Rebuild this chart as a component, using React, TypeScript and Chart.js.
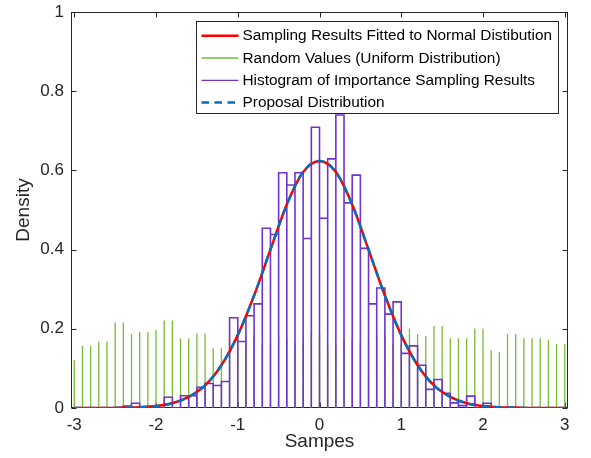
import React, { useEffect, useRef } from 'react';
import { Chart, registerables } from 'chart.js';

Chart.register(...registerables);

const FONT = "'Liberation Sans', Arial, Helvetica, sans-serif";

// Green stems: uniform random values, one every 0.1 from -3 to 3
const uniformX: number[] = Array.from({ length: 61 }, (_, i) => Math.round((-3 + i * 0.1) * 10) / 10);
const uniformY: number[] = [
  0.121, 0.157, 0.157, 0.167, 0.167, 0.216, 0.216, 0.187, 0.192, 0.192,
  0.197, 0.221, 0.221, 0.176, 0.176, 0.188, 0.188, 0.151, 0.151, 0.172,
  0.172, 0.183, 0.183, 0.160, 0.160, 0.178, 0.178, 0.165, 0.165, 0.190,
  0.190, 0.158, 0.158, 0.175, 0.175, 0.168, 0.168, 0.185, 0.185, 0.162,
  0.162, 0.201, 0.187, 0.182, 0.207, 0.207, 0.176, 0.176, 0.176, 0.201,
  0.201, 0.146, 0.141, 0.187, 0.187, 0.176, 0.176, 0.176, 0.172, 0.162,
  0.162,
];

// Histogram bins (width 0.1) starting at -2.5
const binWidth = 0.1;
const histLeftEdges: number[] = Array.from({ length: 46 }, (_, i) => Math.round((-2.5 + i * binWidth) * 10) / 10);
const histY: number[] = [
  0, 0.005, 0.012, 0, 0, 0, 0.027, 0, 0.031, 0.031,
  0.052, 0.062, 0.057, 0.067, 0.228, 0.168, 0.233, 0.263, 0.454, 0.438,
  0.594, 0.563, 0.594, 0.428, 0.709, 0.479, 0.629, 0.740, 0.518, 0.588,
  0.403, 0.263, 0.303, 0.237, 0.268, 0.138, 0.157, 0.108, 0.047, 0.072,
  0.037, 0.013, 0.006, 0.030, 0, 0.012,
];

// Curves every 0.2
const curveX: number[] = Array.from({ length: 31 }, (_, i) => Math.round((-3 + i * 0.2) * 10) / 10);
const fitY: number[] = [
  0, 0, 0, 0.001, 0.002, 0.005, 0.012, 0.028, 0.057, 0.108,
  0.184, 0.284, 0.400, 0.514, 0.596, 0.624, 0.596, 0.514, 0.400, 0.284,
  0.184, 0.108, 0.057, 0.028, 0.012, 0.005, 0.002, 0.001, 0, 0,
  0,
];
const proposalY: number[] = [
  0, 0, 0, 0.001, 0.002, 0.005, 0.012, 0.028, 0.057, 0.108,
  0.184, 0.284, 0.400, 0.514, 0.596, 0.624, 0.596, 0.514, 0.400, 0.284,
  0.184, 0.108, 0.057, 0.028, 0.012, 0.005, 0.002, 0.001, 0, 0,
  0,
];

const xTicks: number[] = [-3, -2, -1, 0, 1, 2, 3];
const yTicks: number[] = [0, 0.2, 0.4, 0.6, 0.8, 1];

const legendOrder = [0, 1, 2, 3];

// Outline of every histogram bin (left edge up, across the top, right edge down)
function histogramOutline() {
  const pts: { x: number; y: number }[] = [];
  histLeftEdges.forEach((e, i) => {
    const r = e + binWidth;
    pts.push({ x: e, y: 0 }, { x: e, y: histY[i] }, { x: r, y: histY[i] }, { x: r, y: 0 });
  });
  return pts;
}

const framePlugin = {
  id: 'matlabFrame',
  beforeDatasetsDraw(chart: any) {
    const { ctx, chartArea, scales } = chart;
    const { left, right, top, bottom } = chartArea;
    ctx.save();
    ctx.strokeStyle = '#262626';
    ctx.lineWidth = 1;
    const L = Math.round(left) + 0.5;
    const R = Math.round(right) - 0.5;
    const T = Math.round(top) + 0.5;
    const B = Math.round(bottom) - 0.5;
    ctx.strokeRect(L, T, R - L, B - T);
    ctx.beginPath();
    scales.x.ticks.forEach((t: any) => {
      const px = Math.round(scales.x.getPixelForValue(t.value)) + 0.5;
      ctx.moveTo(px, B);
      ctx.lineTo(px, B - 5);
      ctx.moveTo(px, T);
      ctx.lineTo(px, T + 5);
    });
    scales.y.ticks.forEach((t: any) => {
      const py = Math.round(scales.y.getPixelForValue(t.value)) + 0.5;
      ctx.moveTo(L, py);
      ctx.lineTo(L + 5, py);
      ctx.moveTo(R, py);
      ctx.lineTo(R - 5, py);
    });
    ctx.stroke();
    ctx.restore();
  },
  afterDraw(chart: any) {
    const { ctx, chartArea } = chart;
    const ds = chart.data.datasets;
    const boxR = chartArea.right - 9.5;
    const boxT = chartArea.top + 9.5;
    const boxW = 362;
    const rowH = 22.3;
    const boxH = 92;
    const boxL = boxR - boxW;
    ctx.save();
    ctx.fillStyle = '#ffffff';
    ctx.fillRect(boxL, boxT, boxW, boxH);
    ctx.strokeStyle = '#262626';
    ctx.lineWidth = 1;
    ctx.strokeRect(boxL, boxT, boxW, boxH);
    ctx.font = `15.4px ${FONT}`;
    ctx.textBaseline = 'middle';
    ctx.textAlign = 'left';
    legendOrder.forEach((di, i) => {
      const d = ds[di];
      const y = boxT + 14.2 + i * rowH;
      ctx.save();
      ctx.beginPath();
      ctx.strokeStyle = d.legendColor;
      ctx.lineWidth = d.legendWidth;
      ctx.setLineDash(d.borderDash || []);
      ctx.moveTo(boxL + 5, y);
      ctx.lineTo(boxL + 42, y);
      ctx.stroke();
      ctx.restore();
      ctx.fillStyle = '#000000';
      ctx.fillText(d.label, boxL + 46, y + 0.5);
    });
    ctx.restore();
  },
};

export default function App() {
  const canvasRef = useRef<HTMLCanvasElement | null>(null);

  useEffect(() => {
    const canvas = canvasRef.current;
    if (!canvas) return;
    const chart = new Chart(canvas, {
      type: 'bar',
      data: {
        datasets: [
          {
            type: 'line',
            label: 'Sampling Results Fitted to Normal Distibution',
            data: curveX.map((x, i) => ({ x, y: fitY[i] })),
            borderColor: '#FF0000',
            borderWidth: 2.5,
            pointRadius: 0,
            cubicInterpolationMode: 'monotone',
            fill: false,
            order: 1,
            xAxisID: 'x',
            yAxisID: 'y',
            legendColor: '#FF0000',
            legendWidth: 2.5,
          } as any,
          {
            type: 'bar',
            label: 'Random Values (Uniform Distribution)',
            data: uniformX.map((x, i) => ({ x, y: uniformY[i] })),
            backgroundColor: '#77BC36',
            borderWidth: 0,
            barThickness: 1.3,
            grouped: false,
            inflateAmount: 0,
            order: 3,
            xAxisID: 'x2',
            yAxisID: 'y',
            legendColor: '#77BC36',
            legendWidth: 1.5,
          } as any,
          {
            type: 'line',
            label: 'Histogram of Importance Sampling Results',
            data: histogramOutline(),
            borderColor: '#7033CC',
            borderWidth: 1.6,
            borderJoinStyle: 'miter',
            borderCapStyle: 'butt',
            pointRadius: 0,
            tension: 0,
            fill: false,
            order: 2,
            xAxisID: 'x',
            yAxisID: 'y',
            legendColor: '#7033CC',
            legendWidth: 1.2,
          } as any,
          {
            type: 'line',
            label: 'Proposal Distribution',
            data: curveX.map((x, i) => ({ x, y: proposalY[i] })),
            borderColor: '#0072BD',
            borderWidth: 2.5,
            borderDash: [7.5, 5.5],
            pointRadius: 0,
            cubicInterpolationMode: 'monotone',
            fill: false,
            order: 0,
            xAxisID: 'x',
            yAxisID: 'y',
            legendColor: '#0072BD',
            legendWidth: 2.5,
          } as any,
        ],
      },
      options: {
        responsive: false,
        animation: false,
        devicePixelRatio: 1,
        layout: { padding: { left: 0, top: 12, right: 23, bottom: 0 } },
        plugins: {
          legend: { display: false },
          tooltip: { enabled: false },
        },
        scales: {
          x: {
            type: 'linear',
            min: -3.04,
            max: 3.04,
            offset: false,
            grid: { display: false, drawTicks: false, offset: false },
            border: { display: false },
            afterBuildTicks: (s: any) => {
              s.ticks = xTicks.map((v) => ({ value: v }));
            },
            ticks: {
              padding: 7,
              color: '#262626',
              font: { family: FONT, size: 17 },
              maxRotation: 0,
              autoSkip: false,
              callback: (v: any) => `${v}`,
            },
            title: {
              display: true,
              text: 'Sampes',
              color: '#262626',
              font: { family: FONT, size: 19 },
              padding: { top: 0, bottom: 5 },
            },
            afterFit: (s: any) => {
              s.height = 50;
              s.paddingLeft = 0;
              s.paddingRight = 0;
            },
          },
          x2: {
            type: 'linear',
            display: false,
            min: -3.04,
            max: 3.04,
            offset: false,
            grid: { offset: false },
          },
          y: {
            type: 'linear',
            min: 0,
            max: 1,
            grid: { display: false, drawTicks: false },
            border: { display: false },
            afterBuildTicks: (s: any) => {
              s.ticks = yTicks.map((v) => ({ value: v }));
            },
            ticks: {
              padding: 7,
              color: '#262626',
              font: { family: FONT, size: 17 },
              callback: (v: any) => `${v}`,
            },
            title: {
              display: true,
              text: 'Density',
              color: '#262626',
              font: { family: FONT, size: 19 },
              padding: { top: 12.6, bottom: 0 },
            },
            afterFit: (s: any) => {
              s.width = 71;
              s.paddingTop = 0;
              s.paddingBottom = 0;
            },
          },
        },
      } as any,
      plugins: [framePlugin],
    });
    return () => chart.destroy();
  }, []);

  return (
    <div style={{ position: 'absolute', left: 0, top: 0, width: 591, height: 458, background: '#ffffff' }}>
      <canvas ref={canvasRef} width={591} height={458} style={{ display: 'block' }} />
    </div>
  );
}
